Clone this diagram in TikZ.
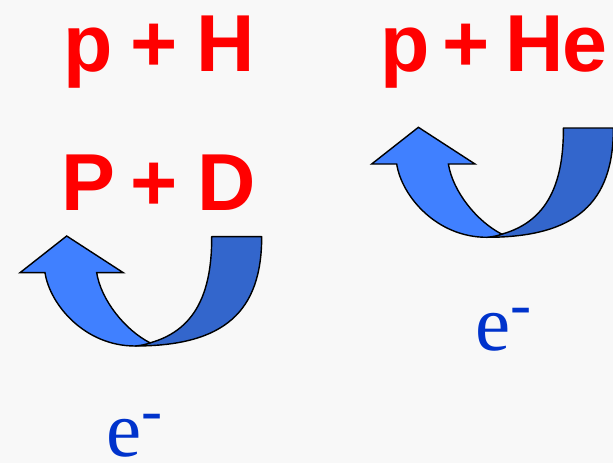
\documentclass[tikz,border=0pt]{standalone}
\usepackage{fontspec}
\setmainfont{Liberation Serif}
\newfontfamily\formulafont{Liberation Sans}
\usetikzlibrary{positioning}
\definecolor{arrowlight}{RGB}{64,128,255}
\definecolor{arrowdark}{RGB}{51,102,204}
\definecolor{electronblue}{RGB}{0,51,204}
\definecolor{slidebg}{RGB}{248,248,248}

\begin{document}
\begin{tikzpicture}[x=0.02cm, y=-0.02cm,
    formula/.style={text=red, font=\formulafont\bfseries\fontsize{46}{46}\selectfont, inner sep=0pt, anchor=base west},
    electron/.style={text=electronblue, font=\fontsize{45}{45}\selectfont, inner sep=0pt, anchor=base west},
    bandback/.style={fill=arrowdark, draw=black, line width=0.8pt, line join=round},
    bandfront/.style={fill=arrowlight, draw=black, line width=0.8pt},
    uturn/.pic={
      % back of the ribbon, going down on the right
      \draw[bandback] (126.7,-109.3) .. controls (126.7,-35) and (90,0) .. (0,0)
        .. controls (55,-8) and (77,-45) .. (76.7,-109.3) -- cycle;
      % front of the ribbon, coming up to the head
      \draw[bandfront] (0,0) .. controls (6,-0.5) and (11,-1.5) .. (15,-3.2)
        .. controls (-10,-16) and (-34,-46) .. (-38.3,-73.3)
        -- (-11.7,-73.3) -- (-68.3,-110) -- (-115,-73.3) -- (-90,-73.3)
        .. controls (-85,-41) and (-50,0) .. (0,0) -- cycle;
    }]
  \useasboundingbox (0,0) rectangle (613,463);
  \fill[slidebg] (0,0) rectangle (613,463);

  \pic at (135,346) {uturn};
  \pic at (486.7,237.3) {uturn};

  \node[formula] (ph) at (63,71.5) {p\hspace{0.35cm}+\hspace{0.39cm}H};
  \node[formula] (phe) at (380,71.5) {p\hspace{0.26cm}+\hspace{0.32cm}H\kern-0.03cm e};
  \node[formula] (pd) at (61,210) {P\hspace{0.31cm}+\hspace{0.39cm}D};

  \node[electron] (e1) at (475,350.5) {e\raisebox{14.5pt}{\fontsize{36}{36}\selectfont -}};
  \node[electron] (e2) at (106.5,456.5) {e\raisebox{14.5pt}{\fontsize{36}{36}\selectfont -}};
\end{tikzpicture}
\end{document}
